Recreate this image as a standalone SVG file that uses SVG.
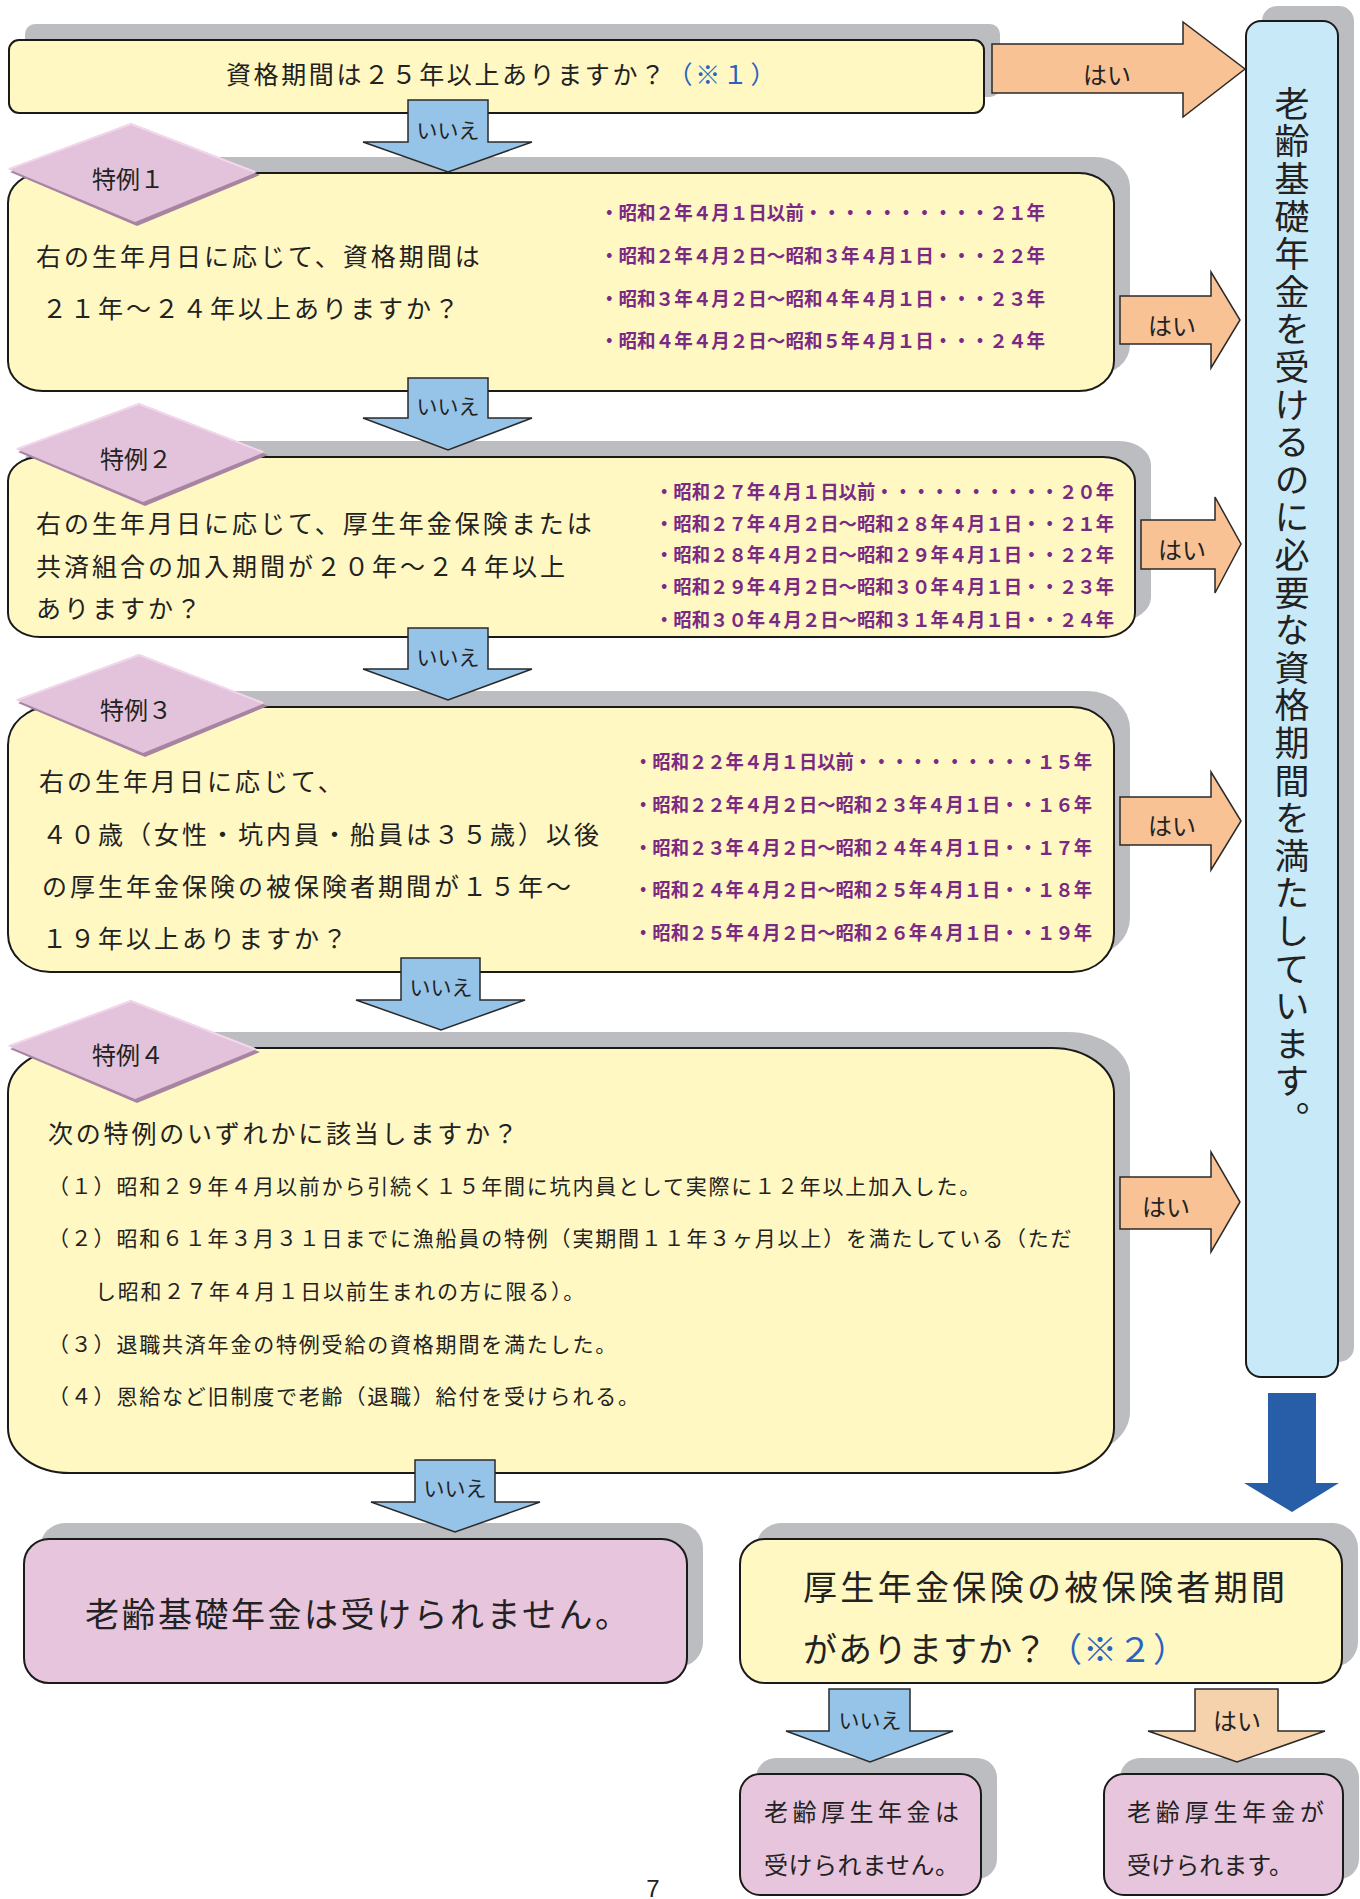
<svg xmlns="http://www.w3.org/2000/svg" width="1360" height="1899" viewBox="0 0 1360 1899">
<style>
text{font-family:"Noto Sans CJK JP","Noto Sans",sans-serif;fill:#222;}
.sh{fill:#bcbdc1;}
.yb{fill:#fff8c3;stroke:#1a1a1a;stroke-width:2;}
.pb{fill:#e6c5dd;stroke:#1a1a1a;stroke-width:2;}
.bb{fill:#c8e9f8;stroke:#1a1a1a;stroke-width:2;}
.dm{fill:#e3c3dc;}
.dms{fill:#a784a1;}
.dmh{fill:none;stroke:#f3d6ea;stroke-width:2;}
.q{font-size:25px;letter-spacing:3px;dominant-baseline:central;}
.it{font-size:21px;letter-spacing:1.8px;dominant-baseline:central;}
.pu{font-size:19px;font-weight:bold;fill:#7b2a84;dominant-baseline:central;}
.dt{font-size:24px;text-anchor:middle;dominant-baseline:central;}
.al{font-size:21px;text-anchor:middle;dominant-baseline:central;}
.ab{fill:#96c3e8;stroke:#2a2a2a;stroke-width:1.5;}
.ao{fill:#f9c295;stroke:#2a2a2a;stroke-width:1.5;}
.ap{fill:#f5d1ac;stroke:#2a2a2a;stroke-width:1.5;}
.ad{fill:#285ea8;}
.bl{fill:#2a62c0;}
</style>

<g id="node-top">
<rect class="sh" x="25" y="24" width="975" height="73" rx="10"/>
<rect class="yb" x="9" y="40" width="975" height="73" rx="10"/>
<text class="q" x="226" y="73" style="letter-spacing:2.6px">資格期間は２５年以上ありますか？<tspan class="bl">（※１）</tspan></text>
</g>

<g id="node-result-ok">
<rect class="sh" x="1262" y="6" width="92" height="1356" rx="15"/>
<rect class="bb" x="1246" y="21" width="92" height="1356" rx="15"/>
<text x="1292" y="86" style="font-size:35px;letter-spacing:2.6px;writing-mode:vertical-rl">老齢基礎年金を受けるのに必要な資格期間を満たしています。</text>
</g>

<g id="node-tokurei1">
<rect class="sh" x="24" y="157" width="1106" height="218" rx="35" ry="30"/>
<rect class="yb" x="8" y="173" width="1106" height="218" rx="35" ry="30"/>
<polygon class="dms" points="10,172 133,126 260,175 137,226"/>
<polygon class="dm" points="8,169 131,123 257,172 135,222"/>
<polyline class="dmh" points="9,169 131,124 255,172"/>
<text class="dt" x="128" y="177">特例１</text>
<text class="q" x="36" y="255">右の生年月日に応じて、資格期間は</text>
<text class="q" x="42" y="307">２１年～２４年以上ありますか？</text>
<text class="pu" x="600" y="211" textLength="445" lengthAdjust="spacingAndGlyphs">・昭和２年４月１日以前・・・・・・・・・・２１年</text>
<text class="pu" x="600" y="254" textLength="445" lengthAdjust="spacingAndGlyphs">・昭和２年４月２日～昭和３年４月１日・・・２２年</text>
<text class="pu" x="600" y="297" textLength="445" lengthAdjust="spacingAndGlyphs">・昭和３年４月２日～昭和４年４月１日・・・２３年</text>
<text class="pu" x="600" y="339" textLength="445" lengthAdjust="spacingAndGlyphs">・昭和４年４月２日～昭和５年４月１日・・・２４年</text>
</g>

<g id="node-tokurei2">
<rect class="sh" x="24" y="441" width="1127" height="180" rx="32" ry="24"/>
<rect class="yb" x="8" y="457" width="1127" height="180" rx="32" ry="24"/>
<polygon class="dms" points="18,452 141,406 268,455 145,506"/>
<polygon class="dm" points="16,449 139,403 265,452 143,502"/>
<polyline class="dmh" points="17,449 139,404 263,452"/>
<text class="dt" x="136" y="457">特例２</text>
<text class="q" x="36" y="522">右の生年月日に応じて、厚生年金保険または</text>
<text class="q" x="36" y="565">共済組合の加入期間が２０年～２４年以上</text>
<text class="q" x="36" y="607">ありますか？</text>
<text class="pu" x="655" y="490" textLength="459" lengthAdjust="spacingAndGlyphs">・昭和２７年４月１日以前・・・・・・・・・・２０年</text>
<text class="pu" x="655" y="522" textLength="459" lengthAdjust="spacingAndGlyphs">・昭和２７年４月２日～昭和２８年４月１日・・２１年</text>
<text class="pu" x="655" y="553" textLength="459" lengthAdjust="spacingAndGlyphs">・昭和２８年４月２日～昭和２９年４月１日・・２２年</text>
<text class="pu" x="655" y="585" textLength="459" lengthAdjust="spacingAndGlyphs">・昭和２９年４月２日～昭和３０年４月１日・・２３年</text>
<text class="pu" x="655" y="618" textLength="459" lengthAdjust="spacingAndGlyphs">・昭和３０年４月２日～昭和３１年４月１日・・２４年</text>
</g>

<g id="node-tokurei3">
<rect class="sh" x="24" y="691" width="1106" height="265" rx="42" ry="38"/>
<rect class="yb" x="8" y="707" width="1106" height="265" rx="42" ry="38"/>
<polygon class="dms" points="18,703 141,657 268,706 145,757"/>
<polygon class="dm" points="16,700 139,654 265,703 143,753"/>
<polyline class="dmh" points="17,700 139,655 263,703"/>
<text class="dt" x="136" y="708">特例３</text>
<text class="q" x="39" y="780">右の生年月日に応じて、</text>
<text class="q" x="42" y="833">４０歳（女性・坑内員・船員は３５歳）以後</text>
<text class="q" x="42" y="885">の厚生年金保険の被保険者期間が１５年～</text>
<text class="q" x="42" y="937">１９年以上ありますか？</text>
<text class="pu" x="634" y="760" textLength="458" lengthAdjust="spacingAndGlyphs">・昭和２２年４月１日以前・・・・・・・・・・１５年</text>
<text class="pu" x="634" y="803" textLength="458" lengthAdjust="spacingAndGlyphs">・昭和２２年４月２日～昭和２３年４月１日・・１６年</text>
<text class="pu" x="634" y="846" textLength="458" lengthAdjust="spacingAndGlyphs">・昭和２３年４月２日～昭和２４年４月１日・・１７年</text>
<text class="pu" x="634" y="888" textLength="458" lengthAdjust="spacingAndGlyphs">・昭和２４年４月２日～昭和２５年４月１日・・１８年</text>
<text class="pu" x="634" y="931" textLength="458" lengthAdjust="spacingAndGlyphs">・昭和２５年４月２日～昭和２６年４月１日・・１９年</text>
</g>

<g id="node-tokurei4">
<rect class="sh" x="24" y="1032" width="1106" height="425" rx="62" ry="45"/>
<rect class="yb" x="8" y="1048" width="1106" height="425" rx="62" ry="45"/>
<polygon class="dms" points="10,1049 133,1003 260,1052 137,1103"/>
<polygon class="dm" points="8,1046 131,1000 257,1049 135,1099"/>
<polyline class="dmh" points="9,1046 131,1001 255,1049"/>
<text class="dt" x="128" y="1053">特例４</text>
<text class="q" x="48" y="1132" style="letter-spacing:2.8px">次の特例のいずれかに該当しますか？</text>
<text class="it" x="48" y="1185">（１）昭和２９年４月以前から引続く１５年間に坑内員として実際に１２年以上加入した。</text>
<text class="it" x="48" y="1237">（２）昭和６１年３月３１日までに漁船員の特例（実期間１１年３ヶ月以上）を満たしている（ただ</text>
<text class="it" x="95" y="1290">し昭和２７年４月１日以前生まれの方に限る）。</text>
<text class="it" x="48" y="1343">（３）退職共済年金の特例受給の資格期間を満たした。</text>
<text class="it" x="48" y="1395">（４）恩給など旧制度で老齢（退職）給付を受けられる。</text>
</g>

<g id="node-result-ng">
<rect class="sh" x="40" y="1523" width="663" height="144" rx="25"/>
<rect class="pb" x="24" y="1539" width="663" height="144" rx="25"/>
<text x="85" y="1612" style="font-size:34px;dominant-baseline:central" textLength="544">老齢基礎年金は受けられません。</text>
</g>

<g id="node-kousei-q">
<rect class="sh" x="756" y="1523" width="602" height="144" rx="25"/>
<rect class="yb" x="740" y="1539" width="602" height="144" rx="25"/>
<text x="803" y="1585" style="font-size:34px;dominant-baseline:central" textLength="482">厚生年金保険の被保険者期間</text>
<text x="803" y="1647" style="font-size:34px;letter-spacing:1px;dominant-baseline:central">がありますか？<tspan class="bl">（※２）</tspan></text>
</g>

<g id="node-kousei-ng">
<rect class="sh" x="756" y="1758" width="241" height="121" rx="20"/>
<rect class="pb" x="740" y="1774" width="241" height="121" rx="20"/>
<text x="764" y="1810" style="font-size:24px;dominant-baseline:central" textLength="195">老齢厚生年金は</text>
<text x="764" y="1863" style="font-size:24px;dominant-baseline:central" textLength="195">受けられません。</text>
</g>

<g id="node-kousei-ok">
<rect class="sh" x="1120" y="1758" width="239" height="121" rx="20"/>
<rect class="pb" x="1104" y="1774" width="239" height="121" rx="20"/>
<text x="1127" y="1810" style="font-size:24px;dominant-baseline:central" textLength="197">老齢厚生年金が</text>
<text x="1127" y="1863" style="font-size:24px;dominant-baseline:central" textLength="166">受けられます。</text>
</g>

<g id="connectors">
<polygon class="ao" points="992,44 1183,44 1183,22 1245,69 1183,117 1183,93 992,93"/>
<text class="al" x="1107" y="73" style="font-size:24px">はい</text>
<polygon class="ao" points="1120,296 1211,296 1211,272 1240,320 1211,368 1211,344 1120,344"/>
<text class="al" x="1172" y="324" style="font-size:24px">はい</text>
<polygon class="ao" points="1141,520 1215,520 1215,497 1241,544 1215,593 1215,569 1141,569"/>
<text class="al" x="1182" y="548" style="font-size:24px">はい</text>
<polygon class="ao" points="1120,797 1211,797 1211,772 1241,821 1211,870 1211,845 1120,845"/>
<text class="al" x="1172" y="824" style="font-size:24px">はい</text>
<polygon class="ao" points="1120,1177 1211,1177 1211,1152 1240,1202 1211,1252 1211,1229 1120,1229"/>
<text class="al" x="1166" y="1205" style="font-size:24px">はい</text>

<polygon class="ab" points="408,100 488,100 488,142 532,142 448,172 363,142 408,142"/>
<text class="al" x="448" y="129">いいえ</text>
<polygon class="ab" points="408,378 488,378 488,418 532,418 448,450 363,418 408,418"/>
<text class="al" x="448" y="405">いいえ</text>
<polygon class="ab" points="408,628 488,628 488,669 532,669 448,700 363,669 408,669"/>
<text class="al" x="448" y="656">いいえ</text>
<polygon class="ab" points="401,958 480,958 480,1000 525,1000 441,1030 356,1000 401,1000"/>
<text class="al" x="441" y="986">いいえ</text>
<polygon class="ab" points="415,1460 495,1460 495,1502 540,1502 455,1532 371,1502 415,1502"/>
<text class="al" x="455" y="1487">いいえ</text>

<polygon class="ad" points="1268,1393 1316,1393 1316,1483 1339,1483 1292,1512 1244,1483 1268,1483"/>

<polygon class="ab" points="829,1689 910,1689 910,1731 953,1731 870,1762 786,1731 829,1731"/>
<text class="al" x="870" y="1719">いいえ</text>
<polygon class="ap" points="1195,1689 1278,1689 1278,1731 1325,1731 1237,1762 1148,1731 1195,1731"/>
<text class="al" x="1237" y="1719" style="font-size:24px">はい</text>
</g>

<text x="653" y="1897" style="font-family:'Liberation Sans',sans-serif;font-size:24px;text-anchor:middle">7</text>
</svg>
